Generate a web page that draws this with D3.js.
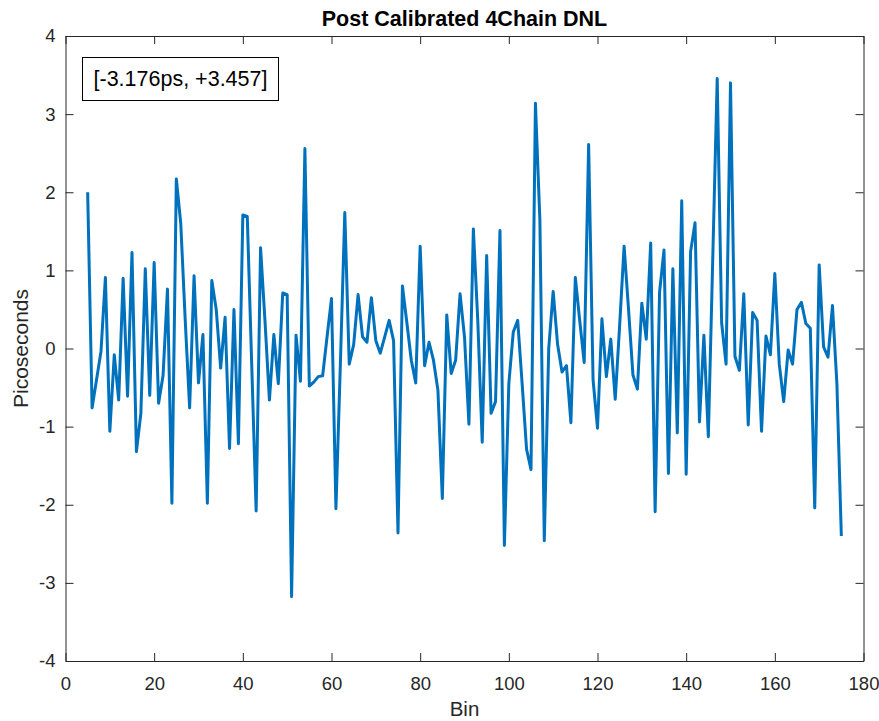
<!DOCTYPE html>
<html>
<head>
<meta charset="utf-8">
<script src="https://cdn.jsdelivr.net/npm/d3@7"></script>
<style>
  html, body { margin: 0; padding: 0; background: #fff; }
  svg { display: block; font-family: "Liberation Sans", Arial, Helvetica, sans-serif; }
</style>
</head>
<body>
<svg id="chart" width="879" height="721"></svg>
<script>
// Post-calibration differential non-linearity per bin, in picoseconds
const firstBin = 5;
const dnl = [
  2.0, -0.76, -0.4, -0.04, 0.91, -1.06, -0.08, -0.66, 0.9, -0.61,
  1.23, -1.32, -0.83, 1.02, -0.6, 1.1, -0.7, -0.35, 0.76, -1.98,
  2.17, 1.6, 0.37, -0.76, 0.93, -0.44, 0.18, -1.98, 0.87, 0.5,
  -0.25, 0.4, -1.28, 0.5, -1.22, 1.71, 1.69, -0.2, -2.08, 1.29,
  0.35, -0.66, 0.18, -0.45, 0.71, 0.69, -3.176, 0.17, -0.42, 2.56,
  -0.48, -0.43, -0.36, -0.35, 0.15, 0.64, -2.05, -0.2, 1.74, -0.2,
  0.05, 0.69, 0.15, 0.08, 0.65, 0.1, -0.06, 0.15, 0.36, 0.1,
  -2.36, 0.8, 0.33, -0.15, -0.44, 1.31, -0.22, 0.08, -0.15, -0.53,
  -1.92, 0.43, -0.32, -0.15, 0.7, 0.15, -0.97, 1.53, 0.35, -1.2,
  1.19, -0.83, -0.68, 1.51, -2.52, -0.45, 0.21, 0.36, -0.45, -1.29,
  -1.55, 3.14, 1.65, -2.46, 0.0, 0.73, 0.05, -0.3, -0.22, -0.95,
  0.91, 0.35, -0.18, 2.61, -0.4, -1.02, 0.38, -0.36, 0.12, -0.65,
  0.3, 1.31, 0.5, -0.34, -0.52, 0.58, 0.12, 1.35, -2.09, 0.72,
  1.26, -1.6, 1.02, -1.08, 1.89, -1.61, 1.24, 1.61, -0.94, 0.17,
  -1.13, 1.16, 3.457, 0.33, -0.2, 3.4, -0.1, -0.28, 0.7, -0.98,
  0.46, 0.36, -1.06, 0.16, -0.08, 0.96, -0.2, -0.68, -0.02, -0.2,
  0.5, 0.59, 0.32, 0.26, -2.04, 1.07, 0.02, -0.11, 0.55, -0.45,
  -2.4
];
const bins = d3.range(firstBin, firstBin + dnl.length);

const xTicks = [0, 20, 40, 60, 80, 100, 120, 140, 160, 180];
const yTicks = [-4, -3, -2, -1, 0, 1, 2, 3, 4];

const titleText = "Post Calibrated 4Chain DNL";
const xLabel = "Bin";
const yLabel = "Picoseconds";
const rangeNote = "[-3.176ps, +3.457]";

const axisColor = "#262626";
const lineColor = "#0072BD";

const plot = { left: 65.5, right: 863.5, top: 36, bottom: 661 };
const tickLen = 8;
const tickFont = "18.5px";
const plainNumber = d => String(d);   // hyphen-minus, as in the tick labels

const svg = d3.select("#chart");

const x = d3.scaleLinear().domain([0, 180]).range([plot.left, plot.right]);
const y = d3.scaleLinear().domain([-4, 4]).range([plot.bottom, plot.top]);

// Data line
const line = d3.line()
  .x((d, i) => x(bins[i]))
  .y(d => y(d));

svg.append("path")
  .datum(dnl)
  .attr("d", line)
  .attr("fill", "none")
  .attr("stroke", lineColor)
  .attr("stroke-width", 3)
  .attr("stroke-linejoin", "round")
  .attr("stroke-linecap", "butt");

// Axes with inward ticks on all four sides
function styleAxis(g) {
  g.selectAll("path.domain").attr("stroke", axisColor).attr("stroke-width", 1);
  g.selectAll(".tick line").attr("stroke", axisColor).attr("stroke-width", 1);
  g.selectAll(".tick text")
    .attr("fill", axisColor)
    .style("font-size", tickFont)
    .style("font-family", '"Liberation Sans", Arial, sans-serif');
}

const xBottom = svg.append("g")
  .attr("transform", `translate(0,${plot.bottom})`)
  .call(d3.axisBottom(x).tickValues(xTicks).tickSizeInner(-tickLen).tickSizeOuter(0).tickPadding(16).tickFormat(plainNumber));
styleAxis(xBottom);

const xTop = svg.append("g")
  .attr("transform", `translate(0,${plot.top})`)
  .call(d3.axisTop(x).tickValues(xTicks).tickSizeInner(-tickLen).tickSizeOuter(0).tickFormat(""));
styleAxis(xTop);

const yLeft = svg.append("g")
  .attr("transform", `translate(${plot.left},0)`)
  .call(d3.axisLeft(y).tickValues(yTicks).tickSizeInner(-tickLen).tickSizeOuter(0).tickPadding(10).tickFormat(plainNumber));
styleAxis(yLeft);

const yRight = svg.append("g")
  .attr("transform", `translate(${plot.right},0)`)
  .call(d3.axisRight(y).tickValues(yTicks).tickSizeInner(-tickLen).tickSizeOuter(0).tickFormat(""));
styleAxis(yRight);

// Title and axis labels
svg.append("text")
  .attr("x", (plot.left + plot.right) / 2)
  .attr("y", 26)
  .attr("text-anchor", "middle")
  .attr("fill", "#000")
  .style("font-size", "21.5px")
  .style("font-weight", "bold")
  .text(titleText);

svg.append("text")
  .attr("x", (plot.left + plot.right) / 2)
  .attr("y", 716)
  .attr("text-anchor", "middle")
  .attr("fill", axisColor)
  .style("font-size", "20.5px")
  .text(xLabel);

svg.append("text")
  .attr("transform", `translate(28,${(plot.top + plot.bottom) / 2}) rotate(-90)`)
  .attr("text-anchor", "middle")
  .attr("fill", axisColor)
  .style("font-size", "21px")
  .text(yLabel);

// Range annotation box
const note = svg.append("g");
note.append("rect")
  .attr("x", 82.5).attr("y", 57.5)
  .attr("width", 196).attr("height", 43)
  .attr("fill", "#fff")
  .attr("stroke", "#000")
  .attr("stroke-width", 1);
note.append("text")
  .attr("x", 82.5 + 98).attr("y", 86)
  .attr("text-anchor", "middle")
  .attr("fill", "#000")
  .style("font-size", "21.5px")
  .text(rangeNote);
</script>
</body>
</html>
